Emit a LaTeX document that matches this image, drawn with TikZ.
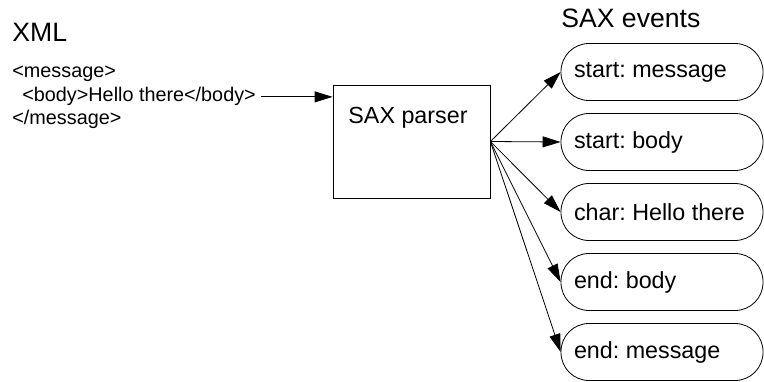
\documentclass[tikz,border=0pt]{standalone}
\usepackage{fontspec}
\setmainfont{Liberation Sans}
\frenchspacing
\usetikzlibrary{positioning,arrows.meta}

\begin{document}
\begin{tikzpicture}[x=1pt, y=-1pt, node distance={70pt}, line width=0.8pt,
    >={Triangle[length=18pt,width=11pt]},
    event/.style = {draw, rounded corners=28pt, minimum width=202pt, minimum height=57pt, inner sep=0pt},
    evtxt/.style = {inner sep=0pt, font=\fontsize{23.3}{28}\selectfont},
    code/.style = {inner sep=0pt, anchor=base west, font=\fontsize{19.8}{23}\selectfont},
    title/.style = {inner sep=0pt, anchor=base west, font=\fontsize{26.6}{32}\selectfont}]
    \useasboundingbox (0,0) rectangle (764,382);

    \node[title] (xml) at (12,42) {XML};
    \node[code] (msg1) at (12,78) {<message>};
    \node[code] (body) at (22,102) {<body>Hello there</body>};
    \node[code] (msg2) at (12,125) {</message>};

    \node[draw, minimum width=157pt, minimum height=113pt] (parser) at (411.5,141.5) {};
    \node[evtxt, anchor=base] (ptxt) at (408,124) {SAX parser};

    \node[title] (events) at (561,28) {SAX events};
    \node[event] (e1) at (662,72) {};
    \node[event] (e2) [below of=e1] {};
    \node[event] (e3) [below of=e2] {};
    \node[event] (e4) [below of=e3] {};
    \node[event] (e5) [below of=e4] {};
    \node[evtxt] (t1) [right=13pt of e1.west] {start: message};
    \node[evtxt] (t2) [right=13pt of e2.west] {start: body};
    \node[evtxt] (t3) [right=13pt of e3.west] {char: Hello there};
    \node[evtxt] (t4) [right=13pt of e4.west] {end: body};
    \node[evtxt] (t5) [right=13pt of e5.west] {end: message};

    \draw[->] ([xshift=5pt]body.east) -- (parser.west |- body.east);
    \draw[->] (parser.east) -- (e1.west);
    \draw[->] (parser.east) -- (e2.west);
    \draw[->] (parser.east) -- (e3.west);
    \draw[->] (parser.east) -- (e4.west);
    \draw[->] (parser.east) -- (e5.west);
  \end{tikzpicture}
\end{document}
